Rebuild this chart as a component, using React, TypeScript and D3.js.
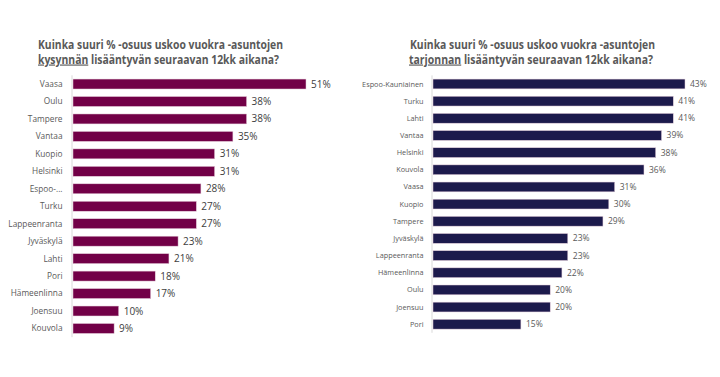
import React from "react";
import * as d3 from "d3";

const leftCities = ["Vaasa","Oulu","Tampere","Vantaa","Kuopio","Helsinki","Espoo-...","Turku","Lappeenranta","Jyväskylä","Lahti","Pori","Hämeenlinna","Joensuu","Kouvola"];
const leftValues = [51,38,38,35,31,31,28,27,27,23,21,18,17,10,9];
const rightCities = ["Espoo-Kauniainen","Turku","Lahti","Vantaa","Helsinki","Kouvola","Vaasa","Kuopio","Tampere","Jyväskylä","Lappeenranta","Hämeenlinna","Oulu","Joensuu","Pori"];
const rightValues = [43,41,41,39,38,36,31,30,29,23,23,22,20,20,15];
const leftTitle1 = "Kuinka suuri % -osuus uskoo vuokra -asuntojen";
const leftTitleU = "kysynnän";
const rightTitleU = "tarjonnan";
const titleRest = " lisääntyvän seuraavan 12kk aikana?";

const FONT = "'Open Sans', 'Noto Sans', sans-serif";

function Panel({cities, values, color, axisX, xEnd, yStart, yEnd, catSize, valSize, labelEnd, valColor}: any) {
  const data = cities.map((c: string, i: number) => ({c, v: values[i]}));
  const x = d3.scaleLinear().domain([0, d3.max(values) as number]).range([axisX + 1, xEnd]);
  const y = d3.scaleBand().domain(cities).range([yStart, yEnd]).paddingInner(0.43).paddingOuter(0.215);
  return (
    <g>
      <line x1={axisX} x2={axisX} y1={yStart} y2={yEnd} stroke="#d9d9d9" strokeWidth={1} />
      {data.map((d: any) => (
        <g key={d.c}>
          <rect x={x(0)} y={y(d.c)} width={x(d.v) - x(0)} height={y.bandwidth()} fill={color} stroke="#e6d0dc" strokeWidth={0.5} />
          <text x={labelEnd} y={(y(d.c) as number) + y.bandwidth() / 2} dy="0.35em" textAnchor="end" fontSize={catSize} fill="#595959" fontFamily={FONT}>{d.c}</text>
          <text x={x(d.v) + 5} y={(y(d.c) as number) + y.bandwidth() / 2} dy="0.35em" fontSize={valSize} fill={valColor} fontFamily={FONT}>{d.v}%</text>
        </g>
      ))}
    </g>
  );
}

export default function App() {
  return (
    <svg width={720} height={377} style={{position: "absolute", left: 0, top: 0, background: "#fff"}}>
      <g fontFamily={FONT} fontWeight={700} fontSize={11.5} fill="#595959">
        <text x={38} y={49} textLength={245} lengthAdjust="spacingAndGlyphs">{leftTitle1}</text>
        <text x={38} y={63.5} textLength={241} lengthAdjust="spacingAndGlyphs"><tspan textDecoration="underline">{leftTitleU}</tspan>{titleRest}</text>
        <text x={410} y={49} textLength={245} lengthAdjust="spacingAndGlyphs">{leftTitle1}</text>
        <text x={409} y={63.5} textLength={244} lengthAdjust="spacingAndGlyphs"><tspan textDecoration="underline">{rightTitleU}</tspan>{titleRest}</text>
      </g>
      <Panel cities={leftCities} values={leftValues} color="#720047" axisX={72} xEnd={306} yStart={75.3} yEnd={337.2} catSize={8.3} valSize={10} labelEnd={62.5} valColor="#404040" />
      <Panel cities={rightCities} values={rightValues} color="#1c1a4c" axisX={432} xEnd={685} yStart={75.4} yEnd={332.8} catSize={7.3} valSize={8.5} labelEnd={423.5} valColor="#595959" />
    </svg>
  );
}
